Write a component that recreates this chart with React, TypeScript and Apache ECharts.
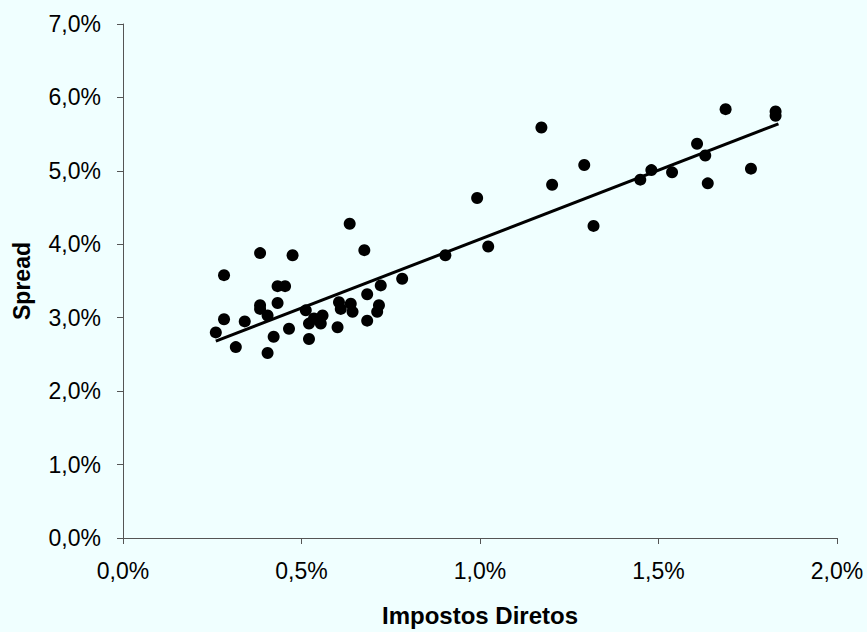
import React, { useEffect, useRef } from "react";
import * as echarts from "echarts";

// Impostos Diretos (%) vs Spread (%)
const impostosDiretos = [
  0.26, 0.283, 0.283, 0.316, 0.341, 0.384, 0.384, 0.384, 0.405, 0.405,
  0.422, 0.433, 0.433, 0.454, 0.465, 0.475, 0.512, 0.521, 0.521, 0.535,
  0.559, 0.554, 0.601, 0.605, 0.61, 0.635, 0.638, 0.643, 0.676, 0.684,
  0.684, 0.712, 0.717, 0.722, 0.782, 0.903, 0.992, 1.023, 1.172, 1.202,
  1.292, 1.318, 1.449, 1.48, 1.538, 1.608, 1.631, 1.638, 1.688, 1.759,
  1.828, 1.828,
];
const spread = [
  2.8, 3.58, 2.98, 2.6, 2.95, 3.88, 3.17, 3.12, 3.03, 2.52,
  2.74, 3.2, 3.43, 3.43, 2.85, 3.85, 3.1, 2.92, 2.71, 2.99,
  3.03, 2.92, 2.87, 3.21, 3.12, 4.28, 3.19, 3.08, 3.92, 3.32,
  2.96, 3.08, 3.17, 3.44, 3.53, 3.85, 4.63, 3.97, 5.59, 4.81,
  5.08, 4.25, 4.88, 5.01, 4.98, 5.37, 5.21, 4.83, 5.84, 5.03,
  5.81, 5.75,
];
// Trend line endpoints
const trendX = [0.26, 1.836];
const trendY = [2.68, 5.64];

const xTicks = { min: 0, max: 2, interval: 0.5 };
const yTicks = { min: 0, max: 7, interval: 1 };

const fmt = (v: number, d: number) => v.toFixed(d).replace(".", ",") + "%";

export default function App() {
  const ref = useRef<HTMLDivElement>(null);
  useEffect(() => {
    document.body.style.margin = "0";
    document.body.style.background = "#f0ffff";
    const chart = echarts.init(ref.current!, null, { renderer: "svg" });
    const font = "'Liberation Sans', Arial, sans-serif";
    chart.setOption({
      animation: false,
      backgroundColor: "#f0ffff",
      grid: { left: 123, right: 30, top: 24, bottom: 92 },
      xAxis: {
        type: "value",
        min: xTicks.min,
        max: xTicks.max,
        interval: xTicks.interval,
        name: "Impostos Diretos",
        nameLocation: "middle",
        nameGap: 65,
        nameTextStyle: { fontFamily: font, fontWeight: "bold", fontSize: 24, color: "#000" },
        axisLine: { show: true, lineStyle: { color: "#555", width: 1 } },
        axisTick: { show: true, length: 6, inside: false, lineStyle: { color: "#555" } },
        axisLabel: { formatter: (v: number) => fmt(v, 1), fontFamily: font, fontSize: 23, color: "#000", margin: 21 },
        splitLine: { show: false },
      },
      yAxis: {
        type: "value",
        min: yTicks.min,
        max: yTicks.max,
        interval: yTicks.interval,
        name: "Spread",
        nameLocation: "middle",
        nameGap: 90,
        nameRotate: 90,
        nameTextStyle: { fontFamily: font, fontWeight: "bold", fontSize: 23, color: "#000" },
        axisLine: { show: true, lineStyle: { color: "#555", width: 1 } },
        axisTick: { show: true, length: 6, inside: false, lineStyle: { color: "#555" } },
        axisLabel: { formatter: (v: number) => fmt(v, 1), fontFamily: font, fontSize: 23, color: "#000", margin: 22 },
        splitLine: { show: false },
      },
      series: [
        {
          type: "scatter",
          symbol: "circle",
          symbolSize: 12,
          itemStyle: { color: "#000", opacity: 1 },
          data: impostosDiretos.map((x, i) => [x, spread[i]]),
          z: 3,
        },
        {
          type: "line",
          data: trendX.map((x, i) => [x, trendY[i]]),
          showSymbol: false,
          symbol: "none",
          lineStyle: { color: "#000", width: 3 },
          z: 4,
        },
      ],
    });
    return () => chart.dispose();
  }, []);
  return (
    <div
      ref={ref}
      style={{ position: "fixed", left: 0, top: 0, width: 867, height: 632, background: "#f0ffff" }}
    />
  );
}
